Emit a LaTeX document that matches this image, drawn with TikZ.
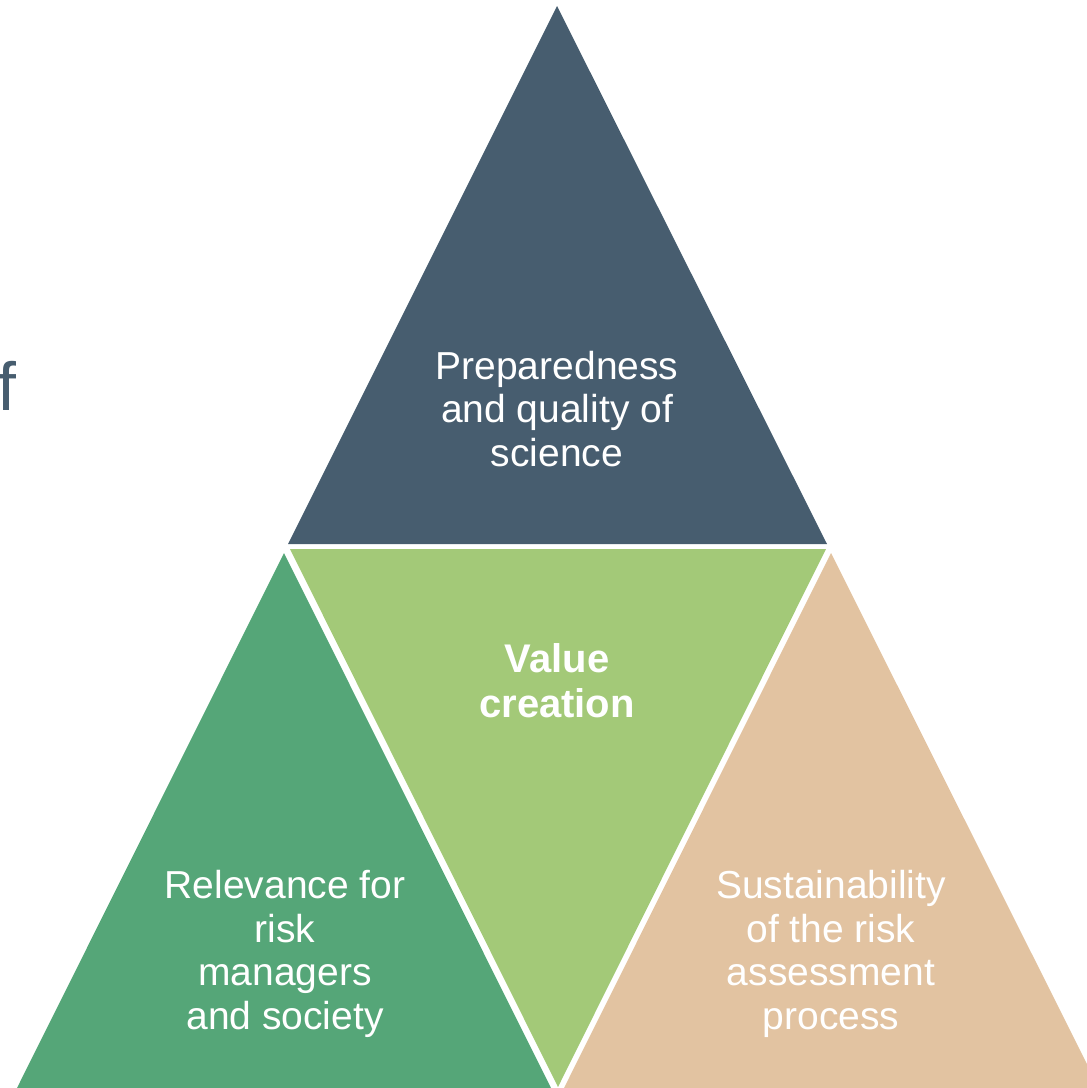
\documentclass[tikz,border=0pt]{standalone}
\usepackage{fontspec}
\setmainfont{Liberation Sans}
\definecolor{slate}{HTML}{475D6F}
\definecolor{lgreen}{HTML}{A3C978}
\definecolor{dgreen}{HTML}{55A678}
\definecolor{tan}{HTML}{E2C3A1}
\begin{document}
\begin{tikzpicture}[x=1pt,y=-1pt,
  lbl/.style={text=white,align=center,font=\fontsize{39}{43.5}\selectfont,inner sep=0pt},
  bold/.style={lbl,font=\fontsize{40}{45}\selectfont\bfseries}]
\useasboundingbox (0,0) rectangle (1087,1088);
\begin{scope}
\clip (0,0) rectangle (1087,1088);
\fill[slate] (557,6) -- (827,544) -- (288,544) -- cycle;
\fill[lgreen] (290,549) -- (826,549) -- (558,1087) -- cycle;
\fill[dgreen] (284,553) -- (552,1090) -- (16,1090) -- cycle;
\fill[tan] (831,553) -- (1100,1090) -- (563,1090) -- cycle;
\end{scope}
\node[lbl] (top) at (557,409) {Preparedness\\and quality of\\science};
\node[bold] (mid) at (557,681) {Value\\creation};
\node[lbl] (left) at (285,954) {Relevance for\\risk\\managers\\and society};
\node[lbl] (right) at (831,954) {Sustainability\\of the risk\\assessment\\process};
\node[text=slate,font=\fontsize{68}{70}\selectfont,inner sep=0pt,anchor=base east] (f) at (17,410) {f};
\end{tikzpicture}
\end{document}
